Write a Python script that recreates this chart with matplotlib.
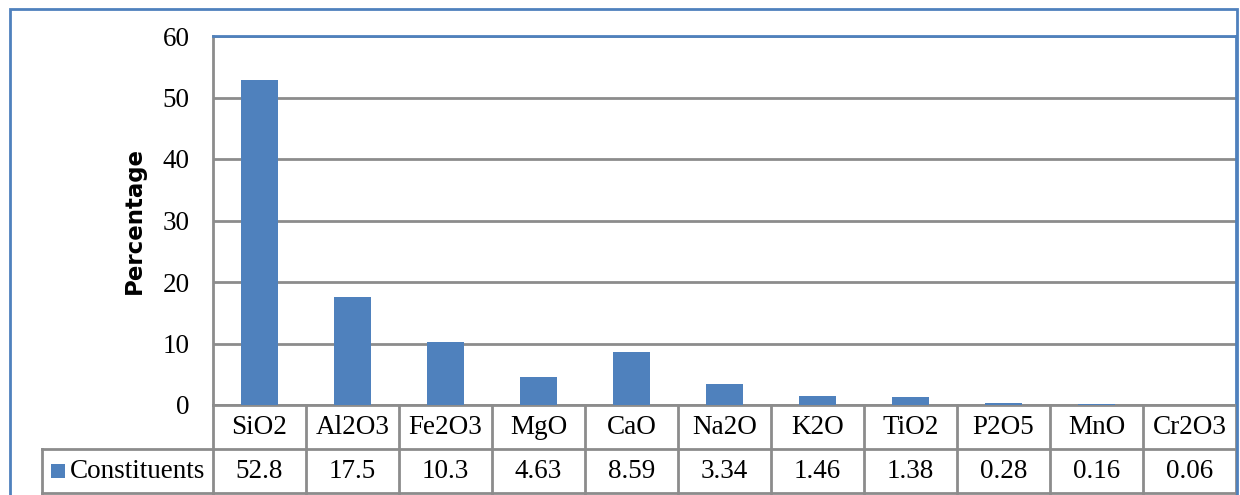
import matplotlib.pyplot as plt
import matplotlib.transforms as mtransforms
from matplotlib.patches import Rectangle

# oxide composition (wt %)
oxides = ['SiO2', 'Al2O3', 'Fe2O3', 'MgO', 'CaO', 'Na2O', 'K2O', 'TiO2', 'P2O5', 'MnO', 'Cr2O3']
values = [52.8, 17.5, 10.3, 4.63, 8.59, 3.34, 1.46, 1.38, 0.28, 0.16, 0.06]
value_labels = ['52.8', '17.5', '10.3', '4.63', '8.59', '3.34', '1.46', '1.38', '0.28', '0.16', '0.06']
series_name = 'Constituents'
yticks = [0, 10, 20, 30, 40, 50, 60]

BLUE = '#4F81BD'
GRID = '#8C8C8C'
W, H = 1240, 495
FS = 19.5

plt.rcParams['font.family'] = ['Liberation Serif', 'DejaVu Serif']

fig = plt.figure(figsize=(W / 100, H / 100), dpi=100)
ax = fig.add_axes([213 / W, 1 - 405 / H, (1236 - 213) / W, (405 - 36) / H])

x = list(range(len(oxides)))
ax.bar(x, values, width=0.4, color=BLUE, zorder=3)

ax.set_xlim(-0.5, len(oxides) - 0.5)
ax.set_ylim(0, 60)
ax.set_yticks(yticks)
ax.set_yticklabels([str(t) for t in yticks])
ax.set_xticks([])
ax.tick_params(axis='y', length=0, pad=17, labelsize=FS)
ax.yaxis.grid(True, color=GRID, linewidth=2, zorder=0)

for side in ['left', 'bottom']:
    ax.spines[side].set_color(GRID)
    ax.spines[side].set_linewidth(2)
for side in ['top', 'right']:
    ax.spines[side].set_color(BLUE)
    ax.spines[side].set_linewidth(2)

ax.set_ylabel('Percentage', fontsize=16.5, fontweight='bold', family='DejaVu Sans', labelpad=12)

# data table under the axis
row_h = 44 / (405 - 36)
trans = mtransforms.blended_transform_factory(ax.transData, ax.transAxes)
line_kw = dict(color=GRID, linewidth=2, clip_on=False, zorder=4)

for i in range(len(oxides) + 1):
    ax.plot([i - 0.5, i - 0.5], [0, -2 * row_h], transform=trans, **line_kw)
ax.plot([-0.5, len(oxides) - 0.5], [-row_h, -row_h], transform=trans, **line_kw)
ax.plot([-0.5, len(oxides) - 0.5], [-2 * row_h, -2 * row_h], transform=trans, **line_kw)

for i, (name, lab) in enumerate(zip(oxides, value_labels)):
    ax.text(i, -0.5 * row_h, name, transform=trans, ha='center', va='center', fontsize=FS)
    ax.text(i, -1.5 * row_h, lab, transform=trans, ha='center', va='center', fontsize=FS)

# legend cell
left = (42 - 213) / (1236 - 213)
ax.plot([left, 0], [-row_h, -row_h], transform=ax.transAxes, **line_kw)
ax.plot([left, 0], [-2 * row_h, -2 * row_h], transform=ax.transAxes, **line_kw)
ax.plot([left, left], [-row_h, -2 * row_h], transform=ax.transAxes, **line_kw)
sq = (51 - 213) / (1236 - 213)
ax.add_patch(Rectangle((sq, -1.5 * row_h - 0.019), 14 / 1023, 0.038, transform=ax.transAxes,
                       facecolor=BLUE, edgecolor='none', clip_on=False))
ax.text((70 - 213) / 1023, -1.5 * row_h, series_name, transform=ax.transAxes,
        ha='left', va='center', fontsize=FS)

# outer chart border
fig.patches.append(Rectangle((9.5 / W, -0.1), (1237 - 9.5) / W, 1.1 - 8.5 / H, transform=fig.transFigure,
                             fill=False, edgecolor=BLUE, linewidth=2))

fig.savefig('out.png', dpi=100)
